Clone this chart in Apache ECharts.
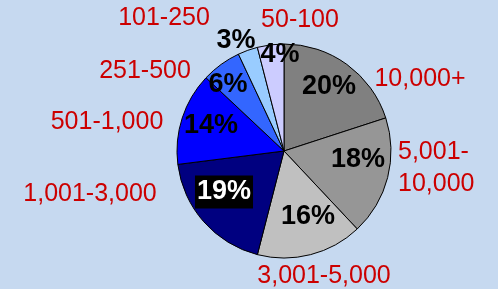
<!DOCTYPE html>
<html>
<head>
<meta charset="utf-8">
<script src="https://cdn.jsdelivr.net/npm/echarts@6/dist/echarts.min.js"></script>
<style>
  html, body { margin: 0; padding: 0; background: #c6d9f0; }
  #chart { width: 498px; height: 289px; }
</style>
</head>
<body>
<div id="chart"></div>
<script>
const categories = ['10,000+', '5,001-\n10,000', '3,001-5,000', '1,001-3,000', '501-1,000', '251-500', '101-250', '50-100'];
const shares = [20, 18, 16, 19, 14, 6, 3, 4];

const colors = ['#808080', '#969696', '#c0c0c0', '#000080', '#0000ff', '#3366ff', '#99ccff', '#ccccff'];
// where the labels sit (text centre)
const pctPos = [[329, 87], [358, 160], [308, 217], [224, 192], [211, 126], [228, 85], [236, 41], [280, 55]];
const namePos = [[420, 79], [398, 168], [324, 276], [90, 194], [107, 122], [145, 71], [164, 18], [300, 20]];

const font = "'Liberation Sans', Arial, sans-serif";
const myChart = echarts.init(document.getElementById('chart'));

const pieData = categories.map((name, i) => ({
  name: name,
  value: shares[i],
  itemStyle: { color: colors[i] },
}));

myChart.setOption({
  backgroundColor: '#c6d9f0',
  animation: false,
  series: [
    {
      type: 'pie',
      center: [284, 151],
      radius: 107,
      startAngle: 90,
      silent: true,
      itemStyle: { borderColor: '#000', borderWidth: 1 },
      labelLine: { show: false },
      label: {
        show: true,
        position: 'inside',
        overflow: 'none',
        formatter: '{c}%',
        fontFamily: font,
        fontSize: 27,
        fontWeight: 'bold',
        color: '#000',
      },
      data: pieData.map((d, i) => i === 3 ? Object.assign({}, d, {
        label: { color: '#fff', backgroundColor: '#000', padding: [1, 2, 0, 2], lineHeight: 32 },
      }) : d),
      labelLayout: (p) => ({
        x: pctPos[p.dataIndex][0],
        y: pctPos[p.dataIndex][1],
        align: 'center',
        verticalAlign: 'middle',
      }),
    },
    {
      type: 'pie',
      center: [284, 151],
      radius: 107,
      startAngle: 90,
      silent: true,
      itemStyle: { color: 'rgba(0,0,0,0)', borderWidth: 0 },
      labelLine: { show: false },
      label: {
        show: true,
        position: 'inside',
        overflow: 'none',
        formatter: '{b}',
        fontFamily: font,
        fontSize: 25,
        lineHeight: 32,
        color: '#cc0000',
      },
      data: pieData.map((d) => ({ name: d.name, value: d.value })),
      labelLayout: (p) => ({
        x: namePos[p.dataIndex][0],
        y: namePos[p.dataIndex][1],
        align: p.dataIndex === 1 ? 'left' : 'center',
        verticalAlign: 'middle',
      }),
    },
  ],
});
window.onresize = function () {
  myChart.resize();
};
</script>
</body>
</html>
